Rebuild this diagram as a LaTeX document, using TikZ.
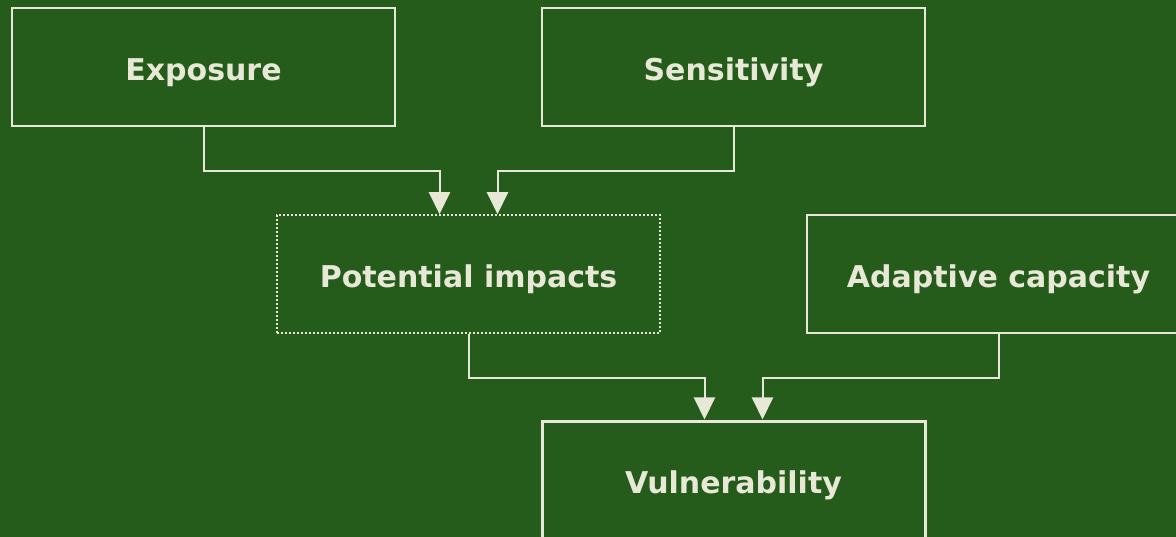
\documentclass[tikz,border=0pt]{standalone}
\usepackage{fontspec}
\setmainfont{DejaVu Sans}
\usetikzlibrary{arrows.meta}
\definecolor{leaf}{RGB}{37,91,27}
\definecolor{chalk}{RGB}{232,232,214}
\begin{document}
\begin{tikzpicture}[x=1pt, y=-1pt, >={Triangle[width=21pt,length=22pt]},
    box/.style={draw=chalk, line width=2pt, text=chalk, minimum width=383pt, minimum height=118pt,
                text height=27pt, text depth=0pt,
                font=\fontsize{30}{34}\selectfont\bfseries, align=center},
    link/.style={->, draw=chalk, line width=2pt}]

    % background
    \fill[leaf] (0,0) rectangle (1176,537);
    \useasboundingbox (0,0) rectangle (1176,537);

    % factors
    \node[box] (expo) at (203.5, 67) {Exposure};
    \node[box] (sens) at (733.5, 67) {Sensitivity};
    \node[box, line width=1.5pt, dash pattern=on 2pt off 2pt] (pot) at (468.5, 274) {Potential impacts};
    \node[box] (adapt) at (998.5, 274) {Adaptive capacity};
    \node[box, line width=3pt] (vuln) at (733.5, 480) {Vulnerability};

    % links
    \draw[link] (expo.south) -- ++(0,44) -| ([xshift=-29pt]pot.north);
    \draw[link] (sens.south) -- ++(0,44) -| ([xshift=29pt]pot.north);
    \draw[link] (pot.south) -- ++(0,44) -| ([xshift=-29pt]vuln.north);
    \draw[link] (adapt.south) -- ++(0,44) -| ([xshift=29pt]vuln.north);
\end{tikzpicture}
\end{document}
